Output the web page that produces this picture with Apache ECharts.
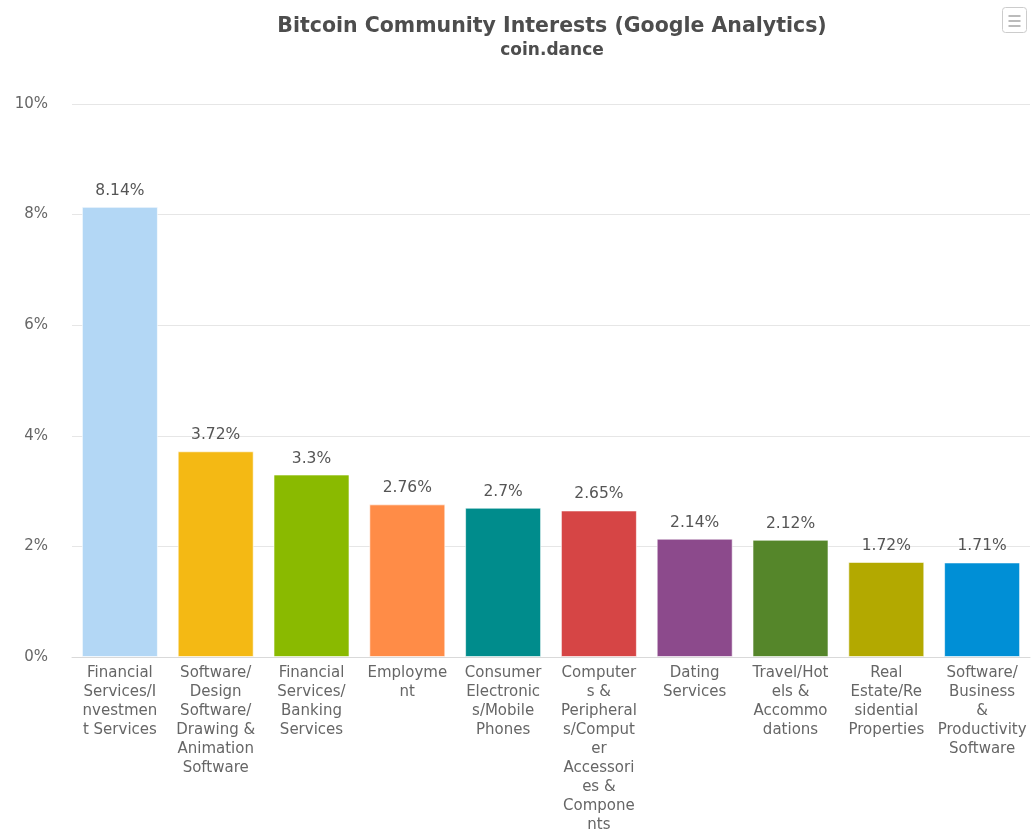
<!DOCTYPE html>
<html>
<head>
<meta charset="utf-8">
<title>Bitcoin Community Interests</title>
<script src="https://cdn.jsdelivr.net/npm/echarts@6/dist/echarts.min.js"></script>
<style>
  html, body { margin: 0; padding: 0; background: #fff; }
  #chart { width: 1031px; height: 831px; }
</style>
</head>
<body>
<div id="chart"></div>
<script>
// Category names, wrapped the way they are laid out under each bar
const categories = [
  'Financial\nServices/I\nnvestmen\nt Services',
  'Software/\nDesign\nSoftware/\nDrawing &\nAnimation\nSoftware',
  'Financial\nServices/\nBanking\nServices',
  'Employme\nnt',
  'Consumer\nElectronic\ns/Mobile\nPhones',
  'Computer\ns &\nPeripheral\ns/Comput\ner\nAccessori\nes &\nCompone\nnts',
  'Dating\nServices',
  'Travel/Hot\nels &\nAccommo\ndations',
  'Real\nEstate/Re\nsidential\nProperties',
  'Software/\nBusiness\n&\nProductivity\nSoftware'
];

// Share of interest, in percent
const shares = [8.14, 3.72, 3.3, 2.76, 2.7, 2.65, 2.14, 2.12, 1.72, 1.71];

const barColors = [
  '#b3d7f5', '#f4b914', '#8aba00', '#ff8c47', '#008c8c',
  '#d64545', '#8c4a8c', '#55862a', '#b3a900', '#008fd6'
];

const yTicks = { min: 0, max: 10, interval: 2 };

const FONT = '"DejaVu Sans", Verdana, sans-serif';

const chart = echarts.init(document.getElementById('chart'), null, { renderer: 'canvas' });

chart.setOption({
  animation: false,
  backgroundColor: '#ffffff',
  title: {
    text: 'Bitcoin Community Interests (Google Analytics)',
    subtext: 'coin.dance',
    left: 552,
    top: 16,
    padding: 0,
    textAlign: 'center',
    itemGap: 5,
    textStyle: { fontFamily: FONT, fontSize: 20.5, fontWeight: 'bold', color: '#4d4d4d' },
    subtextStyle: { fontFamily: FONT, fontSize: 17, fontWeight: 'bold', color: '#4d4d4d' }
  },
  grid: { left: 72, right: 1, top: 104, bottom: 174, containLabel: false, outerBoundsMode: 'none' },
  xAxis: {
    type: 'category',
    data: categories,
    axisLine: { lineStyle: { color: '#d9d9d9', width: 1 } },
    axisTick: { show: false },
    axisLabel: {
      interval: 0,
      margin: 7,
      fontFamily: FONT,
      fontSize: 15,
      lineHeight: 19,
      color: '#666666',
      align: 'center'
    }
  },
  yAxis: {
    type: 'value',
    min: yTicks.min,
    max: yTicks.max,
    interval: yTicks.interval,
    axisLine: { show: false },
    axisTick: { show: false },
    splitLine: { lineStyle: { color: '#e6e6e6', width: 1 } },
    axisLabel: {
      formatter: '{value}%',
      margin: 24,
      fontFamily: FONT,
      fontSize: 15,
      color: '#666666'
    }
  },
  series: [{
    type: 'bar',
    data: shares.map((v, i) => ({ value: v, itemStyle: { color: barColors[i] } })),
    barWidth: 76,
    itemStyle: { borderColor: 'rgba(255,255,255,0.6)', borderWidth: 1 },
    label: {
      show: true,
      position: 'top',
      distance: 8,
      formatter: p => p.value + '%',
      fontFamily: FONT,
      fontSize: 15.5,
      color: '#555555'
    }
  }],
  graphic: [{
    type: 'group',
    left: 1002,
    top: 7,
    children: [
      { type: 'rect', shape: { x: 0, y: 0, width: 24, height: 25, r: 3 },
        style: { fill: '#ffffff', stroke: '#cccccc', lineWidth: 1 } },
      { type: 'line', shape: { x1: 6, y1: 8.5, x2: 18, y2: 8.5 }, style: { stroke: '#bbbbbb', lineWidth: 2 } },
      { type: 'line', shape: { x1: 6, y1: 13.5, x2: 18, y2: 13.5 }, style: { stroke: '#bbbbbb', lineWidth: 2 } },
      { type: 'line', shape: { x1: 6, y1: 18.5, x2: 18, y2: 18.5 }, style: { stroke: '#bbbbbb', lineWidth: 2 } }
    ]
  }]
});
</script>
</body>
</html>
